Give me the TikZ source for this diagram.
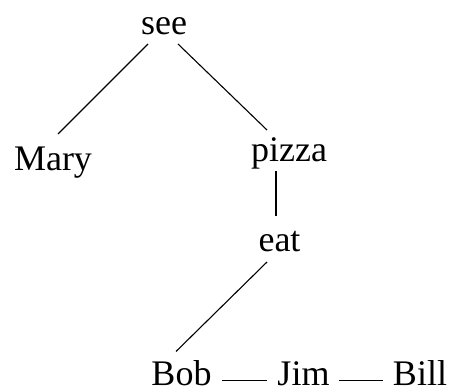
\documentclass[tikz,border=0pt]{standalone}
\usepackage{fontspec}
\setmainfont{Liberation Serif}
\usetikzlibrary{positioning,calc}

\begin{document}
\begin{tikzpicture}[
    x=1pt, y=1pt,
    word/.style={inner sep=0pt, anchor=base, font=\fontsize{36}{40}\selectfont},
    link/.style={line width=1.1pt}
]
    \useasboundingbox (0,0) rectangle (455,390);

    \node[word] (see)   at (164,355)   {see};
    \node[word] (mary)  at (53,219)    {Mary};
    \node[word] (pizza) at (289,228)   {pizza};
    \node[word] (eat)   at (279.5,138) {eat};
    \node[word] (bob)   at (181.5,4.5) {Bob};
    \node[word] (jim)   at (303.5,4.5) {Jim};
    \node[word] (bill)  at (420,4.5)   {Bill};

    \draw[link] ($(see.base)+(-16,-9)$) -- ($(mary.base)+(5,37)$);
    \draw[link] ($(see.base)+(14,-9)$) -- ($(pizza.base)+(-22,32)$);
    \draw[link] ($(pizza.base)+(-13,-9)$) -- ($(eat.base)+(-3.5,36)$);
    \draw[link] ($(eat.base)+(-12.5,-10)$) -- ($(bob.base)+(-5.5,34)$);
    \draw[link] ($(bob.base)+(40.5,5)$) -- ($(jim.base)+(-36.5,5)$);
    \draw[link] ($(jim.base)+(35.5,5)$) -- ($(bill.base)+(-37,5)$);
\end{tikzpicture}
\end{document}
